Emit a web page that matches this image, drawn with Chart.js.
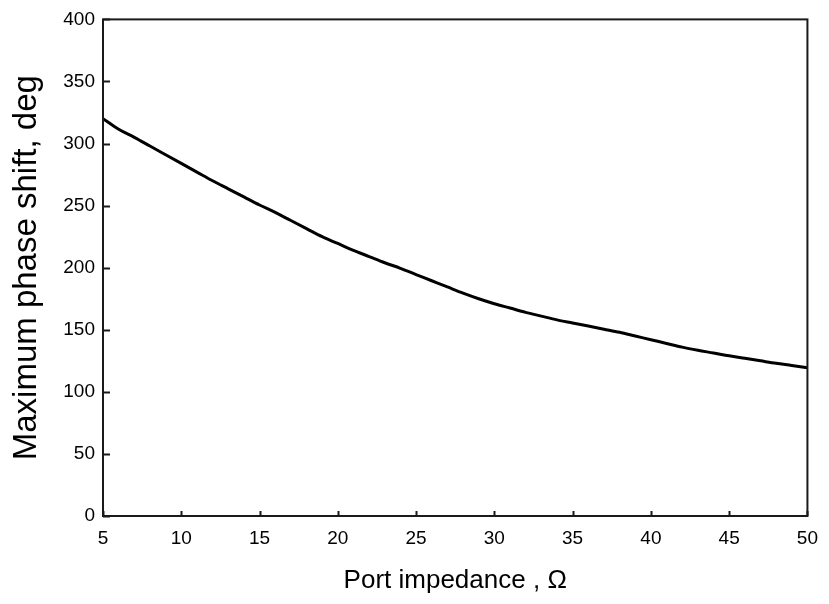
<!DOCTYPE html>
<html>
<head>
<meta charset="utf-8">
<script src="https://cdn.jsdelivr.net/npm/chart.js@4.4.1/dist/chart.umd.min.js"></script>
<style>
  html, body { margin: 0; padding: 0; background: #fff; }
  #wrap { width: 829px; height: 604px; position: relative; }
</style>
</head>
<body>
<div id="wrap"><canvas id="chart"></canvas></div>
<script>
// port impedance (ohm) and max phase shift (deg)
const impedance = [5, 6, 7, 8, 9, 10, 11, 12, 13, 14, 15, 16, 17, 18, 19, 20,
  21, 22, 23, 24, 25, 26, 27, 28, 29, 30, 31, 32, 33, 34, 35, 36, 37, 38, 39,
  40, 41, 42, 43, 44, 45, 46, 47, 48, 49, 50];
const phaseShift = [320, 311.5, 305, 298, 291, 284, 277, 270, 263.5, 257,
  250.5, 244.5, 238, 231.5, 225, 219.5, 214, 209, 204, 199.5, 194.5, 189.5,
  184.5, 179.5, 175, 171, 167.5, 164, 161, 158, 155.5, 153, 150.5, 148,
  145, 142, 139, 136, 133.5, 131.3, 129, 127, 125, 123, 121.3, 119.5];
const xTicks = [5, 10, 15, 20, 25, 30, 35, 40, 45, 50];
const yTicks = [0, 50, 100, 150, 200, 250, 300, 350, 400];

const fontFamily = "'Liberation Sans', Arial, sans-serif";

// frame around the plot plus inward tick marks
const framePlugin = {
  id: 'frame',
  afterDatasetsDraw(chart) {
    const { ctx, chartArea: a, scales } = chart;
    ctx.save();
    ctx.strokeStyle = '#1a1a1a';
    ctx.lineWidth = 2;
    ctx.strokeRect(a.left, a.top, a.right - a.left, a.bottom - a.top);
    ctx.beginPath();
    yTicks.forEach(v => {
      const y = Math.round(scales.y.getPixelForValue(v)) + 0.5;
      ctx.moveTo(a.left, y);
      ctx.lineTo(a.left + 7, y);
    });
    xTicks.forEach(v => {
      const x = Math.round(scales.x.getPixelForValue(v)) + 0.5;
      ctx.moveTo(x, a.bottom);
      ctx.lineTo(x, a.bottom - 5);
    });
    ctx.stroke();
    ctx.restore();
  }
};

new Chart(document.getElementById('chart'), {
  type: 'line',
  data: {
    datasets: [{
      data: impedance.map((x, i) => ({ x: x, y: phaseShift[i] })),
      borderColor: '#000',
      borderWidth: 3,
      pointRadius: 0,
      cubicInterpolationMode: 'monotone',
      fill: false
    }]
  },
  options: {
    responsive: true,
    maintainAspectRatio: false,
    animation: false,
    layout: { padding: { left: 0, top: 19, right: 13, bottom: 0 } },
    plugins: { legend: { display: false }, tooltip: { enabled: false } },
    scales: {
      x: {
        type: 'linear',
        min: 5,
        max: 50,
        afterFit: s => { s.height = 88; },
        afterBuildTicks: s => { s.ticks = xTicks.map(v => ({ value: v })); },
        grid: { display: false, drawTicks: false },
        border: { display: false },
        ticks: { color: '#000', font: { family: fontFamily, size: 19 }, padding: 11 },
        title: { display: true, text: 'Port impedance , Ω', color: '#000', font: { family: fontFamily, size: 26 }, padding: { top: 0, bottom: 8 } }
      },
      y: {
        min: 0,
        max: 400,
        afterFit: s => { s.width = 103; },
        afterBuildTicks: s => { s.ticks = yTicks.map(v => ({ value: v })); },
        grid: { display: false, drawTicks: false },
        border: { display: false },
        ticks: { color: '#000', font: { family: fontFamily, size: 19 }, padding: 8 },
        title: { display: true, text: 'Maximum phase shift, deg', color: '#000', font: { family: fontFamily, size: 33 }, padding: { top: 7, bottom: 0 } }
      }
    }
  },
  plugins: [framePlugin]
});
</script>
</body>
</html>
